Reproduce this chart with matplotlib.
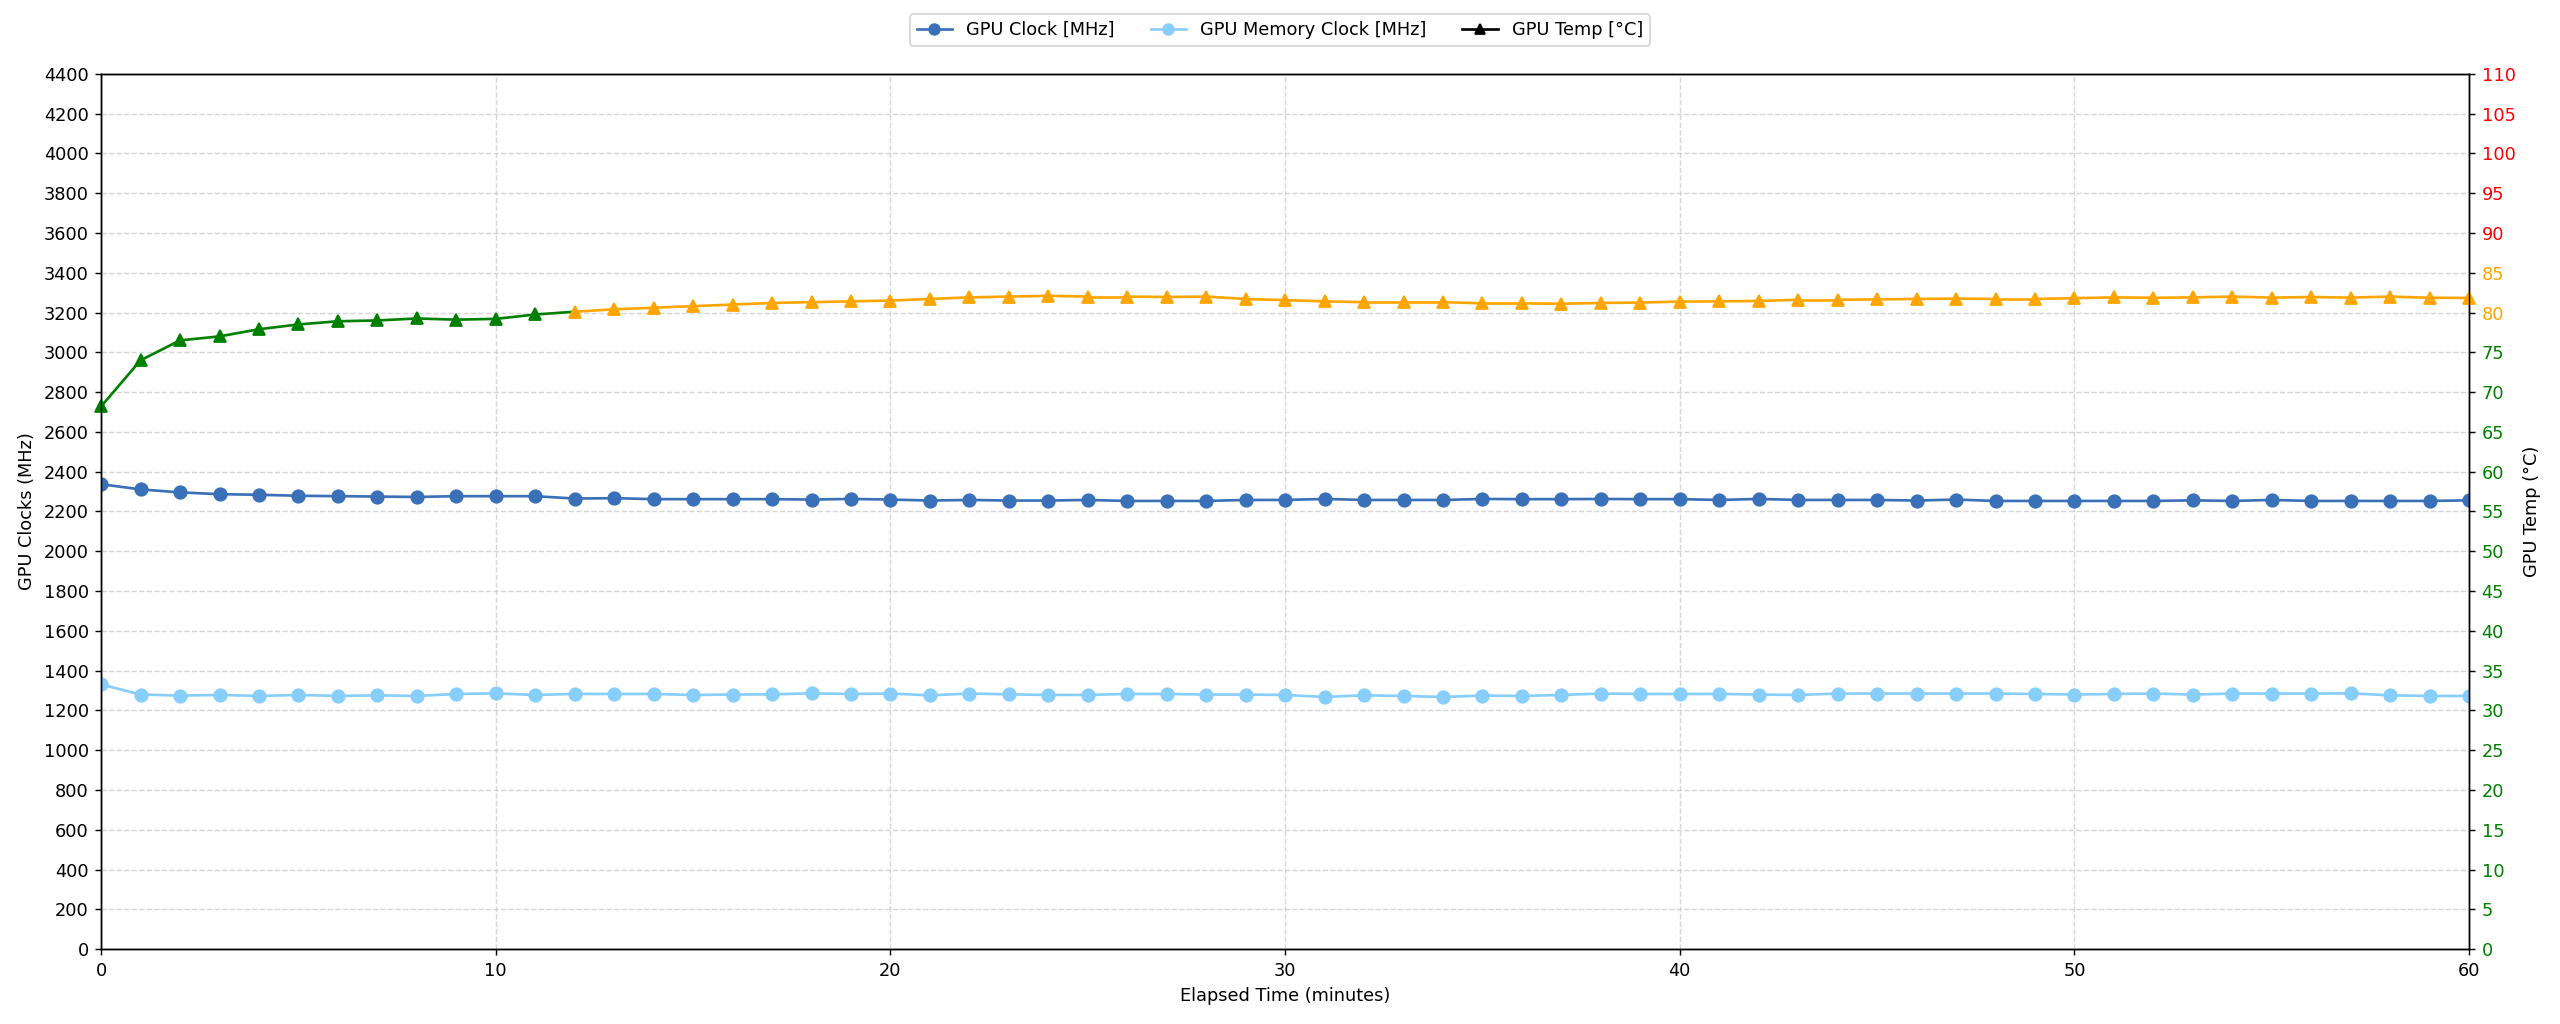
import numpy as np
import matplotlib
matplotlib.use('Agg')
import matplotlib.pyplot as plt
from matplotlib.lines import Line2D

# elapsed minutes 0..60, one reading per minute
minutes = list(range(61))

gpu_clock = [2337, 2311, 2296, 2287, 2284, 2279, 2277, 2275, 2273, 2277,
             2277, 2277, 2265, 2267, 2262, 2262, 2262, 2262, 2260, 2263,
             2260, 2255, 2258, 2255, 2255, 2258, 2253, 2253, 2253, 2258,
             2258, 2263, 2258, 2258, 2258, 2263, 2262, 2262, 2263, 2262,
             2262, 2258, 2263, 2258, 2258, 2258, 2255, 2260, 2253, 2253,
             2253, 2253, 2253, 2256, 2253, 2258, 2253, 2253, 2253, 2253,
             2256]

mem_clock = [1331, 1280, 1275, 1278, 1273, 1278, 1273, 1276, 1273, 1283,
             1286, 1278, 1283, 1283, 1283, 1278, 1280, 1281, 1286, 1283,
             1285, 1276, 1285, 1281, 1278, 1278, 1283, 1283, 1280, 1280,
             1278, 1268, 1276, 1273, 1268, 1275, 1273, 1278, 1285, 1283,
             1283, 1283, 1280, 1278, 1285, 1285, 1285, 1285, 1285, 1283,
             1280, 1283, 1285, 1280, 1285, 1285, 1285, 1286, 1276, 1273,
             1273]

gpu_temp = [68.2, 74.0, 76.5, 77.0, 77.9, 78.5, 78.9, 79.0, 79.25, 79.1,
            79.2, 79.75, 80.1, 80.4, 80.6, 80.8, 81.0, 81.2, 81.3, 81.4,
            81.5, 81.7, 81.9, 82.0, 82.1, 82.0, 82.0, 81.95, 82.0, 81.7,
            81.55, 81.4, 81.3, 81.3, 81.3, 81.15, 81.15, 81.1, 81.2, 81.25,
            81.37, 81.4, 81.45, 81.6, 81.6, 81.65, 81.7, 81.75, 81.7, 81.7,
            81.8, 81.9, 81.85, 81.9, 82.0, 81.87, 81.95, 81.87, 82.0, 81.85,
            81.83]

clock_ticks = list(range(0, 4401, 200))
temp_ticks = list(range(0, 111, 5))
time_ticks = list(range(0, 61, 10))

BLUE = '#3a70b8'
SKY = 'lightskyblue'
MS = 7


def temp_color(t):
    '''green below 80, orange up to 90, red above'''
    if t < 80:
        return 'green'
    elif t < 90:
        return 'orange'
    return 'red'


fig, ax = plt.subplots(figsize=(20, 8), dpi=128)
fig.subplots_adjust(left=0.0395, right=0.9645, top=0.928, bottom=0.073)

ax.plot(minutes, gpu_clock, color=BLUE, marker='o', markersize=MS)
ax.plot(minutes, mem_clock, color=SKY, marker='o', markersize=MS)
ax.set_xlim(0, 60)
ax.set_ylim(0, 4400)
ax.set_xticks(time_ticks)
ax.set_yticks(clock_ticks)
ax.set_xlabel('Elapsed Time (minutes)')
ax.set_ylabel('GPU Clocks (MHz)')
ax.grid(True, linestyle='--', color='#cccccc', alpha=0.8)

ax2 = ax.twinx()
for i in range(len(minutes) - 1):
    ax2.plot(minutes[i:i + 2], gpu_temp[i:i + 2], color=temp_color(gpu_temp[i]))
for m, t in zip(minutes, gpu_temp):
    ax2.plot(m, t, marker='^', markersize=MS, color=temp_color(t), clip_on=False)
ax2.set_ylim(0, 110)
ax2.set_yticks(temp_ticks)
ax2.set_ylabel('GPU Temp (°C)')
for lbl, t in zip(ax2.get_yticklabels(), temp_ticks):
    lbl.set_color(temp_color(t))

handles = [
    Line2D([], [], color=BLUE, marker='o'),
    Line2D([], [], color=SKY, marker='o'),
    Line2D([], [], color='black', marker='^'),
]
fig.legend(handles, ['GPU Clock [MHz]', 'GPU Memory Clock [MHz]', 'GPU Temp [°C]'],
           loc='upper center', ncol=3, bbox_to_anchor=(0.5, 0.995))

fig.savefig('out.png', dpi=128)
